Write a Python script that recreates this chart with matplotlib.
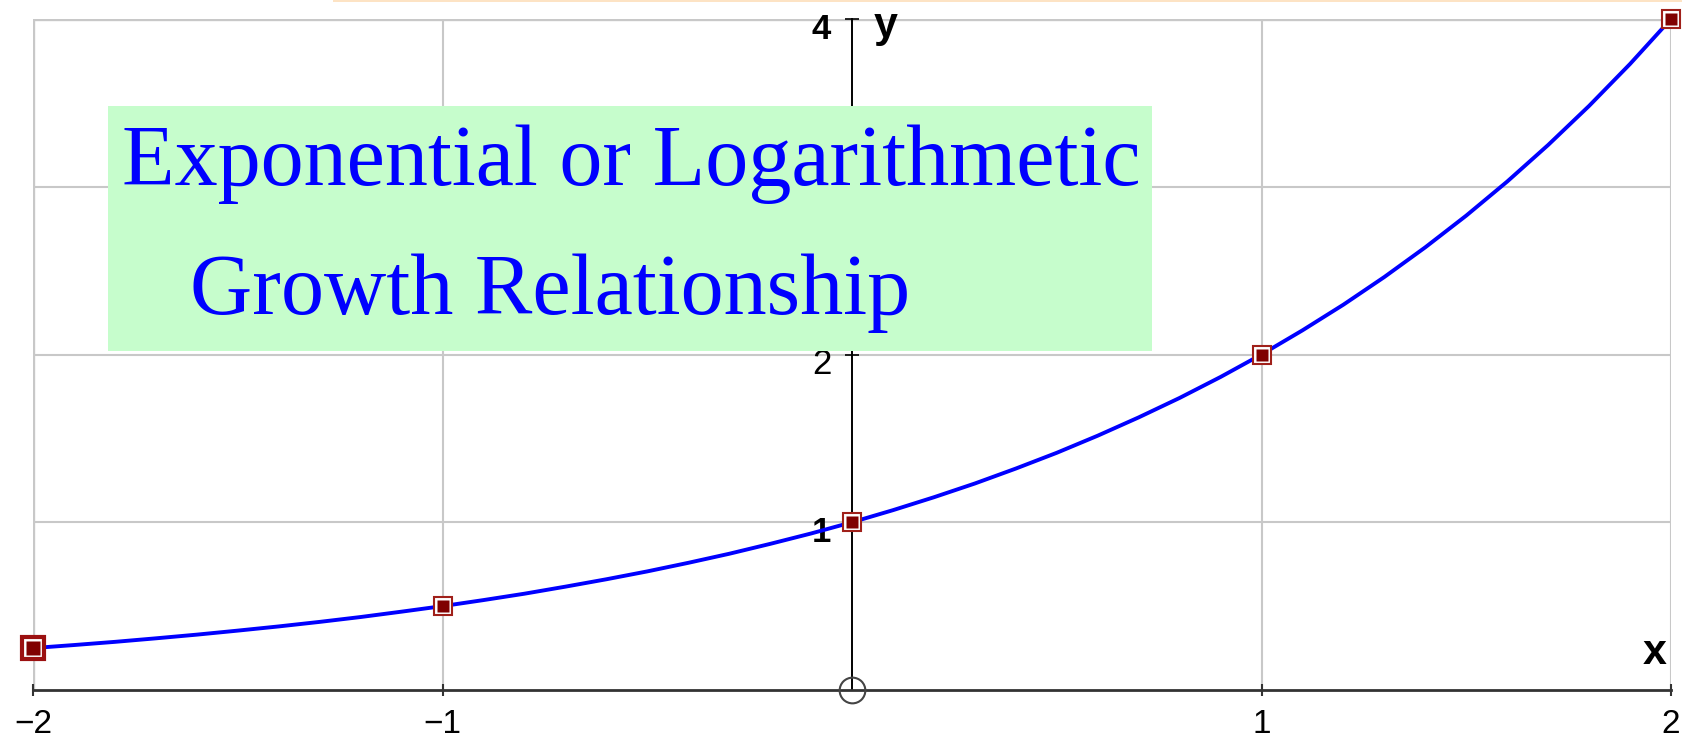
import matplotlib
matplotlib.use("Agg")
import matplotlib.pyplot as plt
import matplotlib.transforms as mtransforms
from matplotlib.patches import Rectangle

# points marked on the curve
point_x = [-2, -1, 0, 1, 2]
point_y = [0.25, 0.5, 1, 2, 4]

# curve values
curve_x = [-2.0, -1.9, -1.8, -1.7, -1.6, -1.5, -1.4, -1.3, -1.2, -1.1,
           -1.0, -0.9, -0.8, -0.7, -0.6, -0.5, -0.4, -0.3, -0.2, -0.1,
           0.0, 0.1, 0.2, 0.3, 0.4, 0.5, 0.6, 0.7, 0.8, 0.9,
           1.0, 1.1, 1.2, 1.3, 1.4, 1.5, 1.6, 1.7, 1.8, 1.9, 2.0]
curve_y = [0.250, 0.268, 0.287, 0.308, 0.330, 0.354, 0.379, 0.406, 0.435, 0.467,
           0.500, 0.536, 0.574, 0.616, 0.660, 0.707, 0.758, 0.812, 0.871, 0.933,
           1.000, 1.072, 1.149, 1.231, 1.320, 1.414, 1.516, 1.625, 1.741, 1.866,
           2.000, 2.144, 2.297, 2.462, 2.639, 2.828, 3.031, 3.249, 3.482, 3.732, 4.000]

x_ticks = [-2, -1, 1, 2]
x_tick_labels = ['\u22122', '\u22121', '1', '2']
y_ticks = [1, 2, 3, 4]
y_tick_labels = ['1', '2', '', '4']   # the 3 sits under the title box

title_lines = ['Exponential or Logarithmetic', 'Growth Relationship']

W, H = 1682, 738
fig = plt.figure(figsize=(W / 100, H / 100), dpi=100)
ax = fig.add_axes([33 / W, (H - 690) / H, (1671 - 33) / W, (690 - 19) / H])
ax.set_xlim(-2, 2)
ax.set_ylim(0, 4)

# grid
for xv in x_ticks:
    ax.axvline(xv, color='#c8c8c8', lw=1.5, zorder=0)
for yv in y_ticks:
    ax.axhline(yv, color='#c8c8c8', lw=1.5, zorder=0)
ax.axvline(-2, color='#c8c8c8', lw=2.4, zorder=0)
ax.axhline(4, color='#c8c8c8', lw=2.4, zorder=0)

# axes through origin
for s in ['top', 'right']:
    ax.spines[s].set_visible(False)
ax.spines['left'].set_position(('data', 0))
ax.spines['bottom'].set_position(('data', 0))
ax.spines['left'].set_linewidth(1.4)
ax.spines['bottom'].set_linewidth(2.0)
ax.spines['left'].set_color('black')
ax.spines['bottom'].set_color('#333333')

ax.set_xticks(x_ticks, x_tick_labels)
ax.set_yticks(y_ticks, y_tick_labels)
ax.tick_params(axis='x', direction='inout', length=9, width=1.5, pad=9,
               labelsize=24, color='#333333')
ax.tick_params(axis='y', direction='inout', length=10, width=1.2, pad=10,
               labelsize=25)
for lab in ax.get_xticklabels():
    lab.set_family('Liberation Sans')
shift = mtransforms.ScaledTranslation(0, -5 / 72, fig.dpi_scale_trans)
for lab in ax.get_yticklabels():
    lab.set_family('Liberation Sans')
    lab.set_fontweight('normal' if lab.get_text() == '2' else 'bold')
    lab.set_transform(lab.get_transform() + shift)

ax.annotate('x', xy=(2, 0), xytext=(-11.5, 27), textcoords='offset points',
            ha='center', va='center', fontsize=31, fontweight='bold',
            family='Liberation Sans')
ax.annotate('y', xy=(0, 4), xytext=(24.5, -5), textcoords='offset points',
            ha='center', va='center', fontsize=31, fontweight='bold',
            family='Liberation Sans')

# curve and markers
ax.plot(curve_x, curve_y, color='#0000ff', lw=2.8, zorder=3, clip_on=False)
ax.plot(point_x[1:], point_y[1:], 's', ms=13.5, mfc='white', mec='#a0201a',
        mew=1.5, ls='none', zorder=4, clip_on=False)
ax.plot(point_x[1:], point_y[1:], 's', ms=8, mfc='#800000', mec='none',
        ls='none', zorder=5, clip_on=False)
ax.plot(point_x[:1], point_y[:1], 's', ms=16, mfc='white', mec='#9b1010',
        mew=3, ls='none', zorder=4, clip_on=False)
ax.plot(point_x[:1], point_y[:1], 's', ms=9.5, mfc='#800000', mec='none',
        ls='none', zorder=5, clip_on=False)
ax.plot([0], [0], 'o', ms=18.5, mfc='none', mec='#444444', mew=1.5,
        zorder=5, clip_on=False)

# title box
fig.add_artist(Rectangle((108 / W, 1 - 351 / H), (1152 - 108) / W, (351 - 106) / H,
                         transform=fig.transFigure, facecolor='#c6fdcc',
                         edgecolor='none', zorder=5))
fig.add_artist(Rectangle((333 / W, 1 - 2 / H), (W - 333) / W, 2 / H,
                         transform=fig.transFigure, facecolor='#fde3c4',
                         edgecolor='none', zorder=5))
fig.text(122 / W, 1 - 185 / H, title_lines[0], fontsize=62, color='#0000ff',
         family='Liberation Serif', va='baseline', ha='left', zorder=6)
fig.text(190 / W, 1 - 314 / H, title_lines[1], fontsize=62, color='#0000ff',
         family='Liberation Serif', va='baseline', ha='left', zorder=6)

fig.savefig('out.png', dpi=100)
